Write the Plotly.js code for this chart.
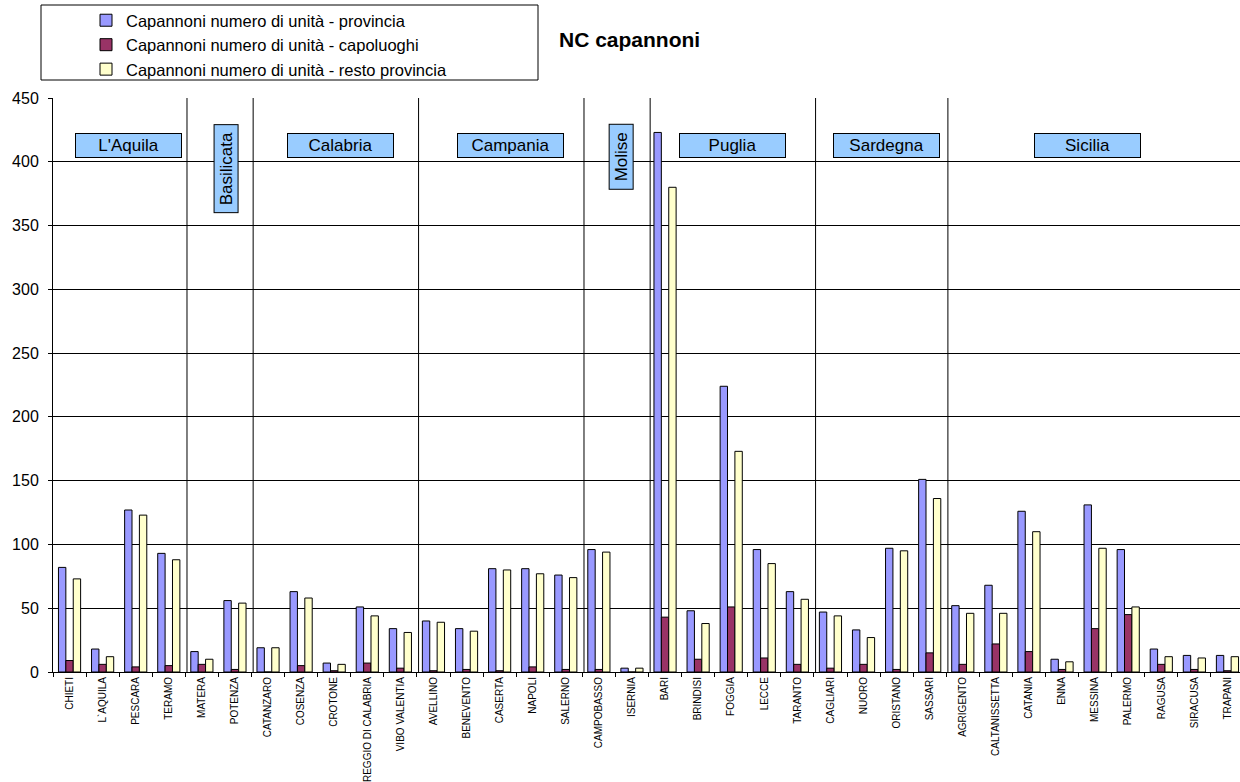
<!DOCTYPE html>
<html>
<head>
<meta charset="utf-8">
<script src="https://cdn.plot.ly/plotly-3.0.1.min.js"></script>
<style>
html, body { margin: 0; padding: 0; overflow: hidden; background: #fff; }
#chart { width: 1246px; height: 782px; }
</style>
</head>
<body>
<div id="chart"></div>
<script>
const categories = ['CHIETI','L`AQUILA','PESCARA','TERAMO','MATERA','POTENZA','CATANZARO','COSENZA','CROTONE','REGGIO DI CALABRIA','VIBO VALENTIA','AVELLINO','BENEVENTO','CASERTA','NAPOLI','SALERNO','CAMPOBASSO','ISERNIA','BARI','BRINDISI','FOGGIA','LECCE','TARANTO','CAGLIARI','NUORO','ORISTANO','SASSARI','AGRIGENTO','CALTANISSETTA','CATANIA','ENNA','MESSINA','PALERMO','RAGUSA','SIRACUSA','TRAPANI'];

const provincia  = [82,18,127,93,16,56,19,63,7,51,34,40,34,81,81,76,96,3,423,48,224,96,63,47,33,97,151,52,68,126,10,131,96,18,13,13];
const capoluoghi = [9,6,4,5,6,2,0,5,1,7,3,1,2,1,4,2,2,0,43,10,51,11,6,3,6,2,15,6,22,16,2,34,45,6,2,1];
const resto      = [73,12,123,88,10,54,19,58,6,44,31,39,32,80,77,74,94,3,380,38,173,85,57,44,27,95,136,46,46,110,8,97,51,12,11,12];

const seriesNames = ['Capannoni numero di unità - provincia','Capannoni numero di unità - capoluoghi','Capannoni numero di unità - resto provincia'];

const regionNames  = ["L'Aquila",'Basilicata','Calabria','Campania','Molise','Puglia','Sardegna','Sicilia'];
const regionCounts = [4,2,5,5,2,5,4,9];

// label placement (layout only)
const regionLabelX = [1.77,4.74,8.18,13.32,16.66,20.03,24.69,30.76];
const regionLabelY = [412.7,394.5,412.7,412.7,403.7,412.7,412.7,412.7];
const regionVertical = [false,true,false,false,true,false,false,false];
const regionLen = [105,87,105,105,64,105,105,105];

const font = 'Arial, "Liberation Sans", sans-serif';
const colors = ['#9999FF','#993366','#FFFFCC'];
const values = [provincia, capoluoghi, resto];

const traces = values.map((v, i) => ({
  type: 'bar',
  name: seriesNames[i],
  x: categories,
  y: v,
  marker: { color: colors[i], line: { color: '#000', width: 1 } },
  hoverinfo: 'x+y'
}));

const W = 1246, H = 782, ml = 53, mr = 2, mt = 98, mb = 110;
const pw = W - ml - mr, ph = H - mt - mb;
function px2paperX(px) { return (px - ml) / pw; }
function px2paperY(py) { return (H - mb - py) / ph; }

const shapes = [];
let cum = 0;
for (let i = 0; i < regionCounts.length - 1; i++) {
  cum += regionCounts[i];
  shapes.push({ type: 'line', xref: 'x', yref: 'y', x0: cum - 0.45, x1: cum - 0.45, y0: 0, y1: 450,
    line: { color: '#000', width: 1 }, layer: 'below' });
}
// legend frame
shapes.push({ type: 'rect', xref: 'paper', yref: 'paper',
  x0: px2paperX(41), x1: px2paperX(538), y0: px2paperY(80), y1: px2paperY(5),
  line: { color: '#000', width: 1 }, fillcolor: 'rgba(0,0,0,0)' });

const annotations = regionNames.map((n, i) => ({
  xref: 'x', yref: 'y', x: regionLabelX[i], y: regionLabelY[i],
  text: n, showarrow: false,
  textangle: regionVertical[i] ? -90 : 0,
  width: regionLen[i], height: 23,
  bgcolor: '#99CCFF', bordercolor: '#000', borderwidth: 1, borderpad: 0,
  font: { family: font, size: 17, color: '#000' },
  xanchor: 'center', yanchor: 'middle'
}));

const layout = {
  width: W, height: H,
  margin: { l: ml, r: mr, t: mt, b: mb, pad: 0, autoexpand: false },
  paper_bgcolor: '#fff', plot_bgcolor: '#fff',
  barmode: 'group', bargap: 0.33, bargroupgap: 0,
  title: { text: '<b>NC capannoni</b>', font: { family: font, size: 21, color: '#000' },
    xref: 'container', yref: 'container', x: 559 / W, xanchor: 'left', y: 1 - 40 / H, yanchor: 'middle' },
  showlegend: true,
  legend: { xref: 'container', yref: 'container', x: 86 / W, y: 1 - 3 / H, xanchor: 'left', yanchor: 'top',
    font: { family: font, size: 16.5, color: '#000' }, bgcolor: 'rgba(0,0,0,0)', borderwidth: 0,
    itemwidth: 30, traceorder: 'normal' },
  xaxis: { type: 'category', tickangle: -90, tickfont: { family: font, size: 10, color: '#000' },
    ticks: 'outside', ticklen: 4, tickcolor: '#000', tickson: 'boundaries',
    showline: true, linecolor: '#000', linewidth: 1, showgrid: false, range: [-0.5, 35.5], fixedrange: true },
  yaxis: { range: [0, 450], dtick: 50, tick0: 0, tickfont: { family: font, size: 16, color: '#000' },
    ticks: 'outside', ticklen: 4, tickcolor: '#000', showline: true, linecolor: '#000', linewidth: 1,
    showgrid: true, gridcolor: '#000', gridwidth: 1, zeroline: false, ticklabelstandoff: 6, fixedrange: true },
  shapes: shapes,
  annotations: annotations
};

Plotly.newPlot('chart', traces, layout, { displayModeBar: false, staticPlot: true });
</script>
</body>
</html>
